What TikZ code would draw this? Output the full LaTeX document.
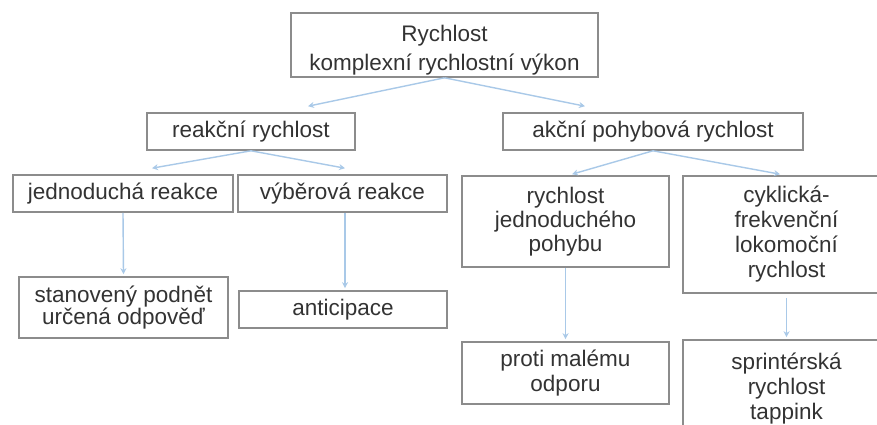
\documentclass[tikz,border=0pt]{standalone}
\usepackage{fontspec}
\setmainfont{Liberation Sans}
\usetikzlibrary{arrows.meta,calc}
\definecolor{boxline}{HTML}{8C8C8C}
\definecolor{conn}{HTML}{A9C9E8}
\definecolor{txt}{HTML}{333333}
\begin{document}
\begin{tikzpicture}[x=1pt,y=-1pt,
  box/.style={draw=boxline,line width=1.6pt,fill=white,inner sep=0pt,align=center,
    text=txt,font=\fontsize{22.5}{24}\selectfont},
  conn/.style={draw=conn,line width=1.4pt,-{Stealth[length=6pt,width=6pt]}}]
\clip (0,0) rectangle (877,425);
\useasboundingbox (0,0) rectangle (877,425);
\fill[white] (0,0) rectangle (877,425);
\node[box,minimum width=307pt,minimum height=64pt,font=\fontsize{22.5}{29}\selectfont] (top) at (444.5,45) {\rule{0pt}{26pt}Rychlost\\komplexní rychlostní výkon};
\node[box,minimum width=208pt,minimum height=37pt] (reak) at (251,131.5) {reakční rychlost};
\node[box,minimum width=300pt,minimum height=37pt] (akc) at (653,131.5) {akční pohybová rychlost};
\node[box,minimum width=220pt,minimum height=37pt] (jedn) at (123,193.5) {jednoduchá reakce};
\node[box,minimum width=209pt,minimum height=37pt] (vyb) at (342.5,193.5) {výběrová reakce};
\node[box,minimum width=207pt,minimum height=91pt] (rjp) at (565.5,221.5) {rychlost\\jednoduchého\\pohybu};
\node[box,minimum width=207pt,minimum height=117pt,font=\fontsize{22.5}{25}\selectfont] (cyk) at (786.5,234.5) {cyklická-\\frekvenční\\lokomoční\\rychlost};
\node[box,minimum width=209pt,minimum height=61pt,font=\fontsize{22.5}{20}\selectfont] (stan) at (123.5,307.5) {stanovený podnět\\určená odpověď};
\node[box,minimum width=208pt,minimum height=37pt] (ant) at (343,309.5) {anticipace};
\node[box,minimum width=207pt,minimum height=62pt,font=\fontsize{22.5}{25}\selectfont] (proti) at (565.5,373) {proti malému\\odporu};
\node[box,minimum width=207pt,minimum height=98pt,font=\fontsize{22.5}{25}\selectfont] (spr) at (786.5,389) {sprintérská\\rychlost\\tappink};
\coordinate (e1) at ([xshift=57pt,yshift=6pt]reak.north);
\coordinate (e2) at ([xshift=-68pt,yshift=6pt]akc.north);
\coordinate (e3) at ([xshift=29pt,yshift=6pt]jedn.north);
\coordinate (e4) at ([xshift=2.5pt,yshift=6pt]vyb.north);
\coordinate (e5) at ([xshift=6.5pt,yshift=1pt]rjp.north);
\coordinate (e6) at ([xshift=-6.5pt,yshift=1pt]cyk.north);
\draw[conn] (top.south) -- (e1);
\draw[conn] (top.south) -- (e2);
\draw[conn] (reak.south) -- (e3);
\draw[conn] (reak.south) -- (e4);
\draw[conn] (akc.south) -- (e5);
\draw[conn] (akc.south) -- (e6);
\draw[conn] (jedn.south) -- ([yshift=2pt]stan.north);
\draw[conn] ([xshift=2.5pt]vyb.south) -- ([xshift=2pt,yshift=2pt]ant.north);
\draw[conn] (rjp.south) -- ([yshift=2pt]proti.north);
\draw[conn] ([yshift=-4pt]cyk.south) -- ([yshift=2pt]spr.north);
\end{tikzpicture}
\end{document}
